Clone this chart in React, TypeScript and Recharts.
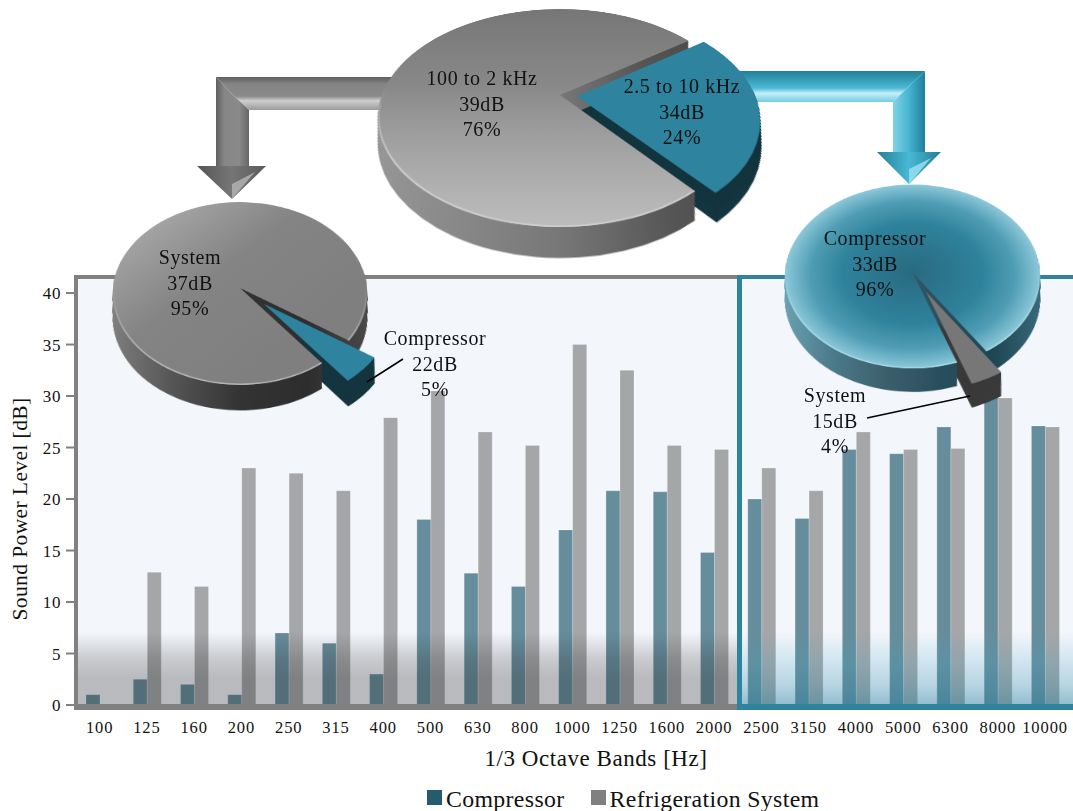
import { Bar, BarChart, Cell, Legend, Pie, PieChart, XAxis, YAxis } from 'recharts'

// Sound power per 1/3 octave band
const bands = ['100', '125', '160', '200', '250', '315', '400', '500', '630', '800', '1000', '1250', '1600', '2000', '2500', '3150', '4000', '5000', '6300', '8000', '10000']
const compressorLevels = [1, 2.5, 2, 1, 7, 6, 3, 18, 12.8, 11.5, 17, 20.8, 20.7, 14.8, 20, 18.1, 24.8, 24.4, 27, 30, 27.1]
const systemLevels = [0, 12.9, 11.5, 23, 22.5, 20.8, 27.9, 30.5, 26.5, 25.2, 35, 32.5, 25.2, 24.8, 23, 20.8, 26.5, 24.8, 24.9, 29.8, 27]
const yTicks = [0, 5, 10, 15, 20, 25, 30, 35, 40]

// Energy shares, larger part first
const rangeShares = [76, 24]
const lowRangeShares = [95, 5]
const highRangeShares = [96, 4]

const chartData = bands.map((band, i) => ({
  band,
  compressor: compressorLevels[i],
  system: systemLevels[i],
}))

const SERIF = '"Liberation Serif", "Times New Roman", serif'
const GRAY = '#808080'
const TEAL = '#2E839E'

const toShareRows = (shares: number[]) => shares.map((value, i) => ({ name: i === 0 ? 'main' : 'slice', value }))

interface TiltedPieProps {
  id: string
  apexX: number
  apexY: number
  radius: number
  tilt: number
  perspective: number
  depth: number
  startAngle: number
  burst: number
  shares: number[]
  faceFill: React.ReactNode
  sideStops: string[]
  sliceFill: string
  sliceSide: string
  rim: string
}

// One pie in perspective: a stack of dark copies makes the wall, the last copy is the top face
function TiltedPie(props: TiltedPieProps) {
  const { id, apexX, apexY, radius, tilt, perspective, depth, startAngle, burst, shares, faceFill, sideStops, sliceFill, sliceSide, rim } = props
  const half = radius + 80
  const rows = toShareRows(shares)
  const total = shares[0] + shares[1]
  const mid = ((startAngle - (360 * (shares[0] + shares[1] / 2)) / total) * Math.PI) / 180
  const burstX = half + burst * Math.cos(mid)
  const burstY = half - burst * Math.sin(mid)
  const layers = Array.from({ length: depth }, (_, i) => depth - i)
  // lower copies sit closer to the viewer, so pull them in to keep the wall straight
  const taper = Math.sin((tilt * Math.PI) / 180) / perspective
  const wallRadius = (d: number) => radius * (1 - d * taper)

  const pieProps = {
    dataKey: 'value',
    data: rows,
    startAngle,
    endAngle: startAngle - 360,
    stroke: 'none',
    isAnimationActive: false,
  }

  return (
    <div
      style={{
        position: 'absolute',
        left: apexX - half,
        top: apexY - half,
        width: half * 2,
        height: half * 2,
        transformOrigin: 'center',
        transform: `perspective(${perspective}px) rotateX(${tilt}deg)`,
      }}
    >
      <PieChart width={half * 2} height={half * 2} margin={{ top: 0, right: 0, bottom: 0, left: 0 }}>
        <defs>
          {faceFill}
          <linearGradient id={`${id}-side`} gradientUnits="userSpaceOnUse" x1={half - radius} x2={half + radius} y1={0} y2={0}>
            {sideStops.map((color, i) => (
              <stop key={i} offset={i / (sideStops.length - 1)} stopColor={color} />
            ))}
          </linearGradient>
          <linearGradient id={`${id}-rim`} gradientUnits="userSpaceOnUse" x1={0} x2={0} y1={half - 10} y2={half + radius}>
            <stop offset="0" stopColor={rim} stopOpacity={0} />
            <stop offset="0.6" stopColor={rim} stopOpacity={0.9} />
            <stop offset="1" stopColor={rim} stopOpacity={1} />
          </linearGradient>
        </defs>
        {layers.map((d) => (
          <Pie key={`slice-wall-${d}`} {...pieProps} outerRadius={wallRadius(d)} cx={burstX} cy={burstY + d}>
            <Cell fill="none" />
            <Cell fill={sliceSide} />
          </Pie>
        ))}
        {layers.map((d) => (
          <Pie key={`wall-${d}`} {...pieProps} outerRadius={wallRadius(d)} cx={half} cy={half + d}>
            <Cell fill={`url(#${id}-side)`} />
            <Cell fill="none" />
          </Pie>
        ))}
        <Pie {...pieProps} outerRadius={radius} cx={half} cy={half}>
          <Cell fill={`url(#${id}-face)`} />
          <Cell fill="none" />
        </Pie>
        <Pie {...pieProps} innerRadius={radius - 1.6} outerRadius={radius} cx={half} cy={half}>
          <Cell fill={`url(#${id}-rim)`} />
          <Cell fill="none" />
        </Pie>
        <Pie {...pieProps} outerRadius={radius} cx={burstX} cy={burstY}>
          <Cell fill="none" />
          <Cell fill={sliceFill} />
        </Pie>
      </PieChart>
    </div>
  )
}

function BandLegend({ payload }: any) {
  return (
    <div style={{ display: 'flex', fontFamily: SERIF, fontSize: 23.8, letterSpacing: 0.35, color: '#111', lineHeight: '24px' }}>
      {(payload || []).map((entry: any, i: number) => (
        <div key={entry.value} style={{ display: 'flex', alignItems: 'center', marginRight: i === 0 ? 26 : 0, whiteSpace: 'nowrap' }}>
          <span style={{ width: 15, height: 15, background: entry.color, marginRight: 4, marginTop: -4 }} />
          {entry.value}
        </div>
      ))}
    </div>
  )
}

const labelStyle = { fontFamily: SERIF, fontSize: 20, letterSpacing: 0.6, fill: '#111', textAnchor: 'middle' as const }

// Three stacked lines of text, centred on x
function PieNote({ x, y, lines }: { x: number; y: number; lines: string[] }) {
  return (
    <text style={labelStyle}>
      {lines.map((line, i) => (
        <tspan key={line} x={x} y={y + i * 25.5}>
          {line}
        </tspan>
      ))}
    </text>
  )
}

const xAxisTitle = () => (
  <text x={596} y={766} textAnchor="middle" fontFamily={SERIF} fontSize={23} letterSpacing={0.55} fill="#111">
    1/3 Octave Bands [Hz]
  </text>
)

const yAxisTitle = () => (
  <text x={0} y={0} transform="translate(27 509) rotate(-90)" textAnchor="middle" fontFamily={SERIF} fontSize={21.5} letterSpacing={0.4} fill="#111">
    Sound Power Level [dB]
  </text>
)

export default function App() {
  return (
    <div style={{ position: 'absolute', left: 0, top: 0, width: 1073, height: 811, overflow: 'hidden', background: '#fff' }}>
      {/* panel backgrounds */}
      <div style={{ position: 'absolute', left: 74, top: 276, width: 1000, height: 432, background: '#F3F6FB' }} />

      <div style={{ position: 'absolute', left: 0, top: 0 }}>
        <BarChart
          width={1073}
          height={811}
          data={chartData}
          barSize={14}
          barGap={0}
          margin={{ top: 278, right: 4.3, bottom: 54, left: 0 }}
        >
          <XAxis
            dataKey="band"
            interval={0}
            axisLine={false}
            tickLine={false}
            height={52}
            tickMargin={10}
            tick={{ fontFamily: SERIF, fontSize: 16.5, letterSpacing: 0.9, fill: '#111' }}
            label={xAxisTitle}
          />
          <YAxis
            width={76}
            domain={[0, 41.46]}
            ticks={yTicks}
            interval={0}
            axisLine={false}
            tickSize={10}
            tickMargin={5}
            tickLine={{ stroke: GRAY, strokeWidth: 2 }}
            tick={{ fontFamily: SERIF, fontSize: 17, letterSpacing: 0.6, fill: '#111' }}
            label={yAxisTitle}
          />
          <Bar dataKey="compressor" name="Compressor" fill="#245B6E" fillOpacity={0.68} stroke="#fff" strokeOpacity={0.22} isAnimationActive={false} />
          <Bar dataKey="system" name="Refrigeration System" fill={GRAY} fillOpacity={0.68} stroke="#fff" strokeOpacity={0.22} isAnimationActive={false} />
          <Legend
            verticalAlign="middle"
            layout="horizontal"
            content={<BandLegend />}
            wrapperStyle={{ left: 427, top: 787, width: 460, height: 26 }}
          />
        </BarChart>
      </div>

      {/* floor shading and frames over the bars */}
      <div
        style={{
          position: 'absolute', left: 74, top: 632, width: 663, height: 76,
          background: 'linear-gradient(to bottom, rgba(32,32,32,0) 0%, rgba(32,32,32,0.2) 35%, rgba(32,32,32,0.28) 60%, rgba(32,32,32,0.28) 100%)',
        }}
      />
      <div
        style={{
          position: 'absolute', left: 737, top: 632, width: 340, height: 76,
          background: 'linear-gradient(to bottom, rgba(60,160,190,0) 0%, rgba(60,160,190,0.2) 40%, rgba(45,135,165,0.3) 70%, rgba(40,125,155,0.5) 100%)',
        }}
      />
      <div style={{ position: 'absolute', boxSizing: 'border-box', left: 74, top: 275, width: 663, height: 435, borderTop: `4px solid ${GRAY}`, borderLeft: `4px solid ${GRAY}`, borderBottom: `6px solid ${GRAY}` }} />
      <div style={{ position: 'absolute', boxSizing: 'border-box', left: 737, top: 275, width: 340, height: 435, borderTop: `4px solid ${TEAL}`, borderLeft: `5px solid ${TEAL}`, borderBottom: `6px solid ${TEAL}` }} />

      {/* arrows from the top pie to the two lower pies */}
      <svg width={1073} height={811} style={{ position: 'absolute', left: 0, top: 0 }}>
        <defs>
          <linearGradient id="gray-run" x1="0" x2="0" y1="0" y2="1">
            <stop offset="0" stopColor="#5f5f5f" />
            <stop offset="0.22" stopColor="#858585" />
            <stop offset="0.58" stopColor="#8a8a8a" />
            <stop offset="0.72" stopColor="#cfcfcf" />
            <stop offset="1" stopColor="#9a9a9a" />
          </linearGradient>
          <linearGradient id="gray-drop" x1="0" x2="1" y1="0" y2="0">
            <stop offset="0" stopColor="#5f5f5f" />
            <stop offset="0.25" stopColor="#868686" />
            <stop offset="0.7" stopColor="#8a8a8a" />
            <stop offset="1" stopColor="#666" />
          </linearGradient>
          <linearGradient id="gray-head" x1="0" x2="1" y1="0" y2="0">
            <stop offset="0" stopColor="#555" />
            <stop offset="0.5" stopColor="#767676" />
            <stop offset="1" stopColor="#5a5a5a" />
          </linearGradient>
          <linearGradient id="blue-run" x1="0" x2="0" y1="0" y2="1">
            <stop offset="0" stopColor="#23809b" />
            <stop offset="0.2" stopColor="#2f93ad" />
            <stop offset="0.55" stopColor="#4cbad6" />
            <stop offset="0.72" stopColor="#c6eef7" />
            <stop offset="1" stopColor="#71cde3" />
          </linearGradient>
          <linearGradient id="blue-drop" x1="0" x2="1" y1="0" y2="0">
            <stop offset="0" stopColor="#7fd3e6" />
            <stop offset="0.5" stopColor="#46b4d0" />
            <stop offset="1" stopColor="#1f7f9a" />
          </linearGradient>
          <linearGradient id="blue-head" x1="0" x2="1" y1="0" y2="0">
            <stop offset="0" stopColor="#257f99" />
            <stop offset="0.5" stopColor="#49b9d5" />
            <stop offset="1" stopColor="#237d97" />
          </linearGradient>
        </defs>
        <polygon points="216,77 400,77 400,110 249,110 232,94" fill="url(#gray-run)" />
        <polygon points="216,77 232,94 249,110 249,167 216,167" fill="url(#gray-drop)" />
        <polygon points="197,166 266,166 232,199" fill="url(#gray-head)" />
        <polygon points="232,199 232,184 255,172" fill="#b5b5b5" opacity={0.8} />
        <polygon points="740,71 925,71 909,86 893,102 740,102" fill="url(#blue-run)" />
        <polygon points="925,71 925,153 893,153 893,102 909,86" fill="url(#blue-drop)" />
        <polygon points="877,152 941,152 909,184" fill="url(#blue-head)" />
        <polygon points="909,184 909,169 931,158" fill="#9be2f2" opacity={0.8} />
      </svg>

      <TiltedPie
        id="low"
        apexX={240}
        apexY={288}
        radius={127}
        tilt={44.2}
        perspective={1475}
        depth={33}
        startAngle={-52}
        burst={32}
        shares={lowRangeShares}
        faceFill={
          <linearGradient id="low-face" x1="0.05" y1="0.1" x2="0.75" y2="0.75">
            <stop offset="0" stopColor="#ababab" />
            <stop offset="0.5" stopColor="#848484" />
            <stop offset="1" stopColor="#7f7f7f" />
          </linearGradient>
        }
        sideStops={['#808080', '#555', '#333', '#2d2d2d', '#4a4a4a']}
        sliceFill={TEAL}
        sliceSide="#14353F"
        rim="#b8b8b8"
      />

      <TiltedPie
        id="high"
        apexX={912}
        apexY={272}
        radius={127.5}
        tilt={44}
        perspective={2058}
        depth={31}
        startAngle={-70.4}
        burst={30}
        shares={highRangeShares}
        faceFill={
          <radialGradient id="high-face" cx="0.5" cy="0.5" r="0.5">
            <stop offset="0" stopColor="#286a80" />
            <stop offset="0.55" stopColor="#2f829c" />
            <stop offset="0.8" stopColor="#4f9db4" />
            <stop offset="1" stopColor="#8cc8d9" />
          </radialGradient>
        }
        sideStops={['#6ba2b3', '#4b7a8a', '#3c5f6c', '#2a4f5c', '#1d4552', '#3a6b7a']}
        sliceFill="#777"
        sliceSide="#3a3a3a"
        rim="#a6dbe8"
      />

      <TiltedPie
        id="range"
        apexX={560}
        apexY={95}
        radius={178}
        tilt={54.2}
        perspective={684}
        depth={40}
        startAngle={-50.6}
        burst={17}
        shares={rangeShares}
        faceFill={
          <linearGradient id="range-face" x1="0" y1="0" x2="0" y2="1">
            <stop offset="0" stopColor="#767676" />
            <stop offset="0.45" stopColor="#888" />
            <stop offset="1" stopColor="#bcbcbc" />
          </linearGradient>
        }
        sideStops={['#999', '#8a8a8a', '#777', '#555', '#474747']}
        sliceFill={TEAL}
        sliceSide="#14353F"
        rim="#d0d0d0"
      />

      {/* pie notes and leader lines */}
      <svg width={1073} height={811} style={{ position: 'absolute', left: 0, top: 0 }}>
        <line x1={367} y1={382} x2={403} y2={359} stroke="#000" strokeWidth={1.5} />
        <line x1={867} y1={418} x2={970} y2={396} stroke="#000" strokeWidth={1.5} />
        <PieNote x={482} y={85} lines={['100 to 2 kHz', '39dB', '76%']} />
        <PieNote x={682} y={93} lines={['2.5 to 10 kHz', '34dB', '24%']} />
        <PieNote x={190} y={264} lines={['System', '37dB', '95%']} />
        <PieNote x={435} y={345} lines={['Compressor', '22dB', '5%']} />
        <PieNote x={875} y={245} lines={['Compressor', '33dB', '96%']} />
        <PieNote x={835} y={402} lines={['System', '15dB', '4%']} />
      </svg>
    </div>
  )
}
